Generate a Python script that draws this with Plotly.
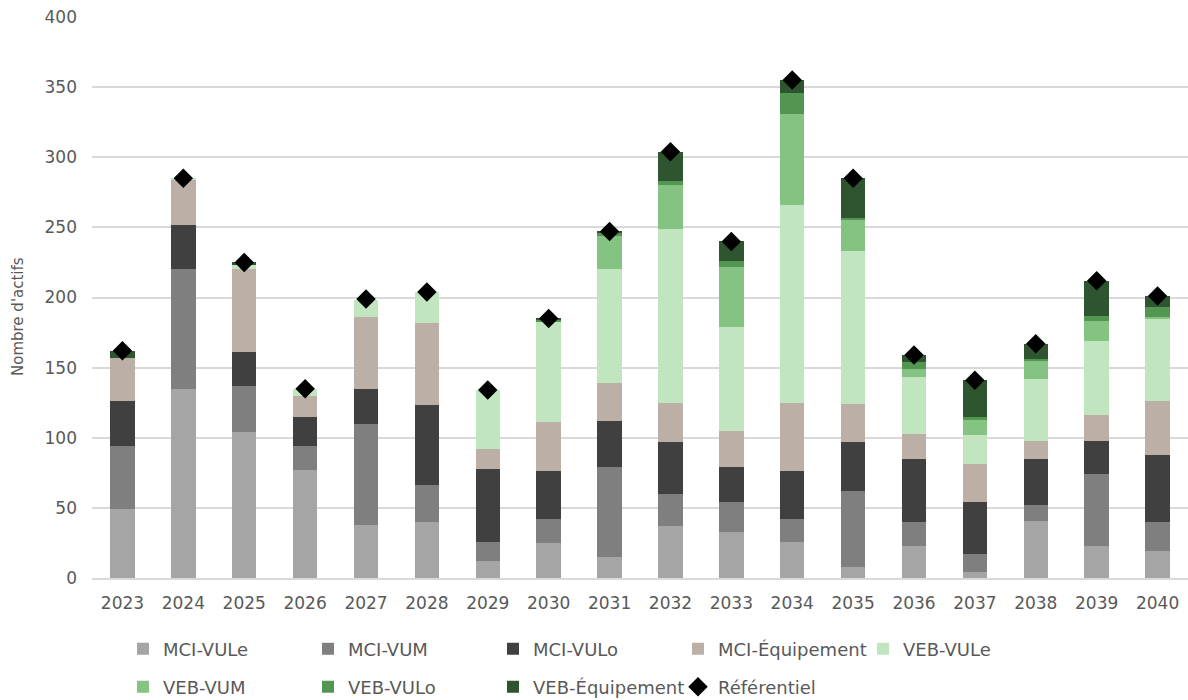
import plotly.graph_objects as go

# Years on the category axis
years = [str(y) for y in range(2023, 2041)]

# Stacked fleet counts per segment
mci_vule = [49, 135, 104, 77, 38, 40, 12, 25, 15, 37, 33, 26, 8, 23, 4, 41, 23, 19]
mci_vum = [45, 85, 33, 17, 72, 26, 14, 17, 64, 23, 21, 16, 54, 17, 13, 11, 51, 21]
mci_vulo = [32, 32, 24, 21, 25, 57, 52, 34, 33, 37, 25, 34, 35, 45, 37, 33, 24, 48]
mci_equip = [31, 32, 59, 15, 51, 59, 14, 35, 27, 28, 26, 49, 27, 18, 27, 13, 18, 38]
veb_vule = [0, 1, 3, 5, 12, 22, 42, 72, 81, 124, 74, 141, 109, 40, 21, 44, 53, 59]
veb_vum = [0, 0, 0, 0, 0, 0, 0, 0, 24, 31, 43, 65, 22, 6, 11, 13, 14, 1]
veb_vulo = [0, 0, 0, 0, 0, 0, 0, 1, 2, 3, 4, 15, 2, 5, 2, 1, 4, 7]
veb_equip = [5, 0, 2, 0, 0, 0, 0, 1, 1, 21, 14, 9, 28, 5, 26, 11, 25, 8]
referentiel = [162, 285, 225, 135, 199, 204, 134, 185, 247, 304, 240, 355, 285, 159, 141, 167, 212, 201]

series = [
    ("MCI-VULe", mci_vule, "#A5A5A5"),
    ("MCI-VUM", mci_vum, "#7F7F7F"),
    ("MCI-VULo", mci_vulo, "#404040"),
    ("MCI-Équipement", mci_equip, "#BCAFA6"),
    ("VEB-VULe", veb_vule, "#C1E6BF"),
    ("VEB-VUM", veb_vum, "#85C382"),
    ("VEB-VULo", veb_vulo, "#529651"),
    ("VEB-Équipement", veb_equip, "#2F5530"),
]

FONT = "DejaVu Sans"
GREY = "#595959"

W, H = 1188, 700
ML, MR, MT, MB = 92, 0, 17, 122
PW, PH = W - ML - MR, H - MT - MB

# Legend grid: swatch left edge (px) and row centre (px) for each entry
legend_slots = [
    (142, 649), (327, 649), (512, 649), (697, 649), (882, 649),
    (142, 687), (327, 687), (512, 687), (697, 687),
]

fig = go.Figure()
for i, (name, vals, color) in enumerate(series):
    fig.add_trace(go.Bar(
        x=years, y=vals, name=name, showlegend=True,
        legend="legend" if i == 0 else f"legend{i + 1}",
        marker=dict(color=color, line=dict(width=0)),
    ))

fig.add_trace(go.Scatter(
    x=years, y=referentiel, name="Référentiel", mode="markers", showlegend=True,
    legend=f"legend{len(series) + 1}",
    marker=dict(symbol="diamond", color="black", size=15),
))

legends = {}
for i, (sx, sy) in enumerate(legend_slots):
    key = "legend" if i == 0 else f"legend{i + 1}"
    legends[key] = dict(
        orientation="h",
        x=(sx - 19 - ML) / PW, xanchor="left",
        y=(MT + PH - sy) / PH, yanchor="middle",
        font=dict(family=FONT, size=18, color=GREY),
        itemclick=False, itemdoubleclick=False,
        bgcolor="rgba(0,0,0,0)",
        visible=True,
    )

fig.update_layout(
    showlegend=True,
    barmode="stack",
    bargap=0.6,
    width=W, height=H,
    margin=dict(l=ML, r=MR, t=MT, b=MB, autoexpand=False),
    paper_bgcolor="white",
    plot_bgcolor="white",
    font=dict(family=FONT, size=17, color=GREY),
    yaxis=dict(
        range=[0, 400],
        dtick=50,
        showgrid=True,
        gridcolor="#D9D9D9",
        gridwidth=1.5,
        zeroline=False,
        showline=False,
        ticks="",
        ticklabelstandoff=14,
        automargin=False,
        tickfont=dict(family=FONT, size=17, color=GREY),
    ),
    xaxis=dict(
        type="category",
        range=[-0.5, len(years) - 0.5],
        showgrid=False,
        showline=True,
        linecolor="#D9D9D9",
        linewidth=1.5,
        ticks="",
        automargin=False,
        ticklabelstandoff=9,
        tickfont=dict(family=FONT, size=17, color=GREY),
    ),
    annotations=[dict(
        text="Nombre d'actifs",
        textangle=-90,
        xref="paper", yref="paper",
        x=(18 - ML) / PW, y=(MT + PH - 317) / PH,
        xanchor="center", yanchor="middle",
        showarrow=False,
        font=dict(family=FONT, size=15, color=GREY),
    )],
    **legends,
)

fig.write_html("out.html")
